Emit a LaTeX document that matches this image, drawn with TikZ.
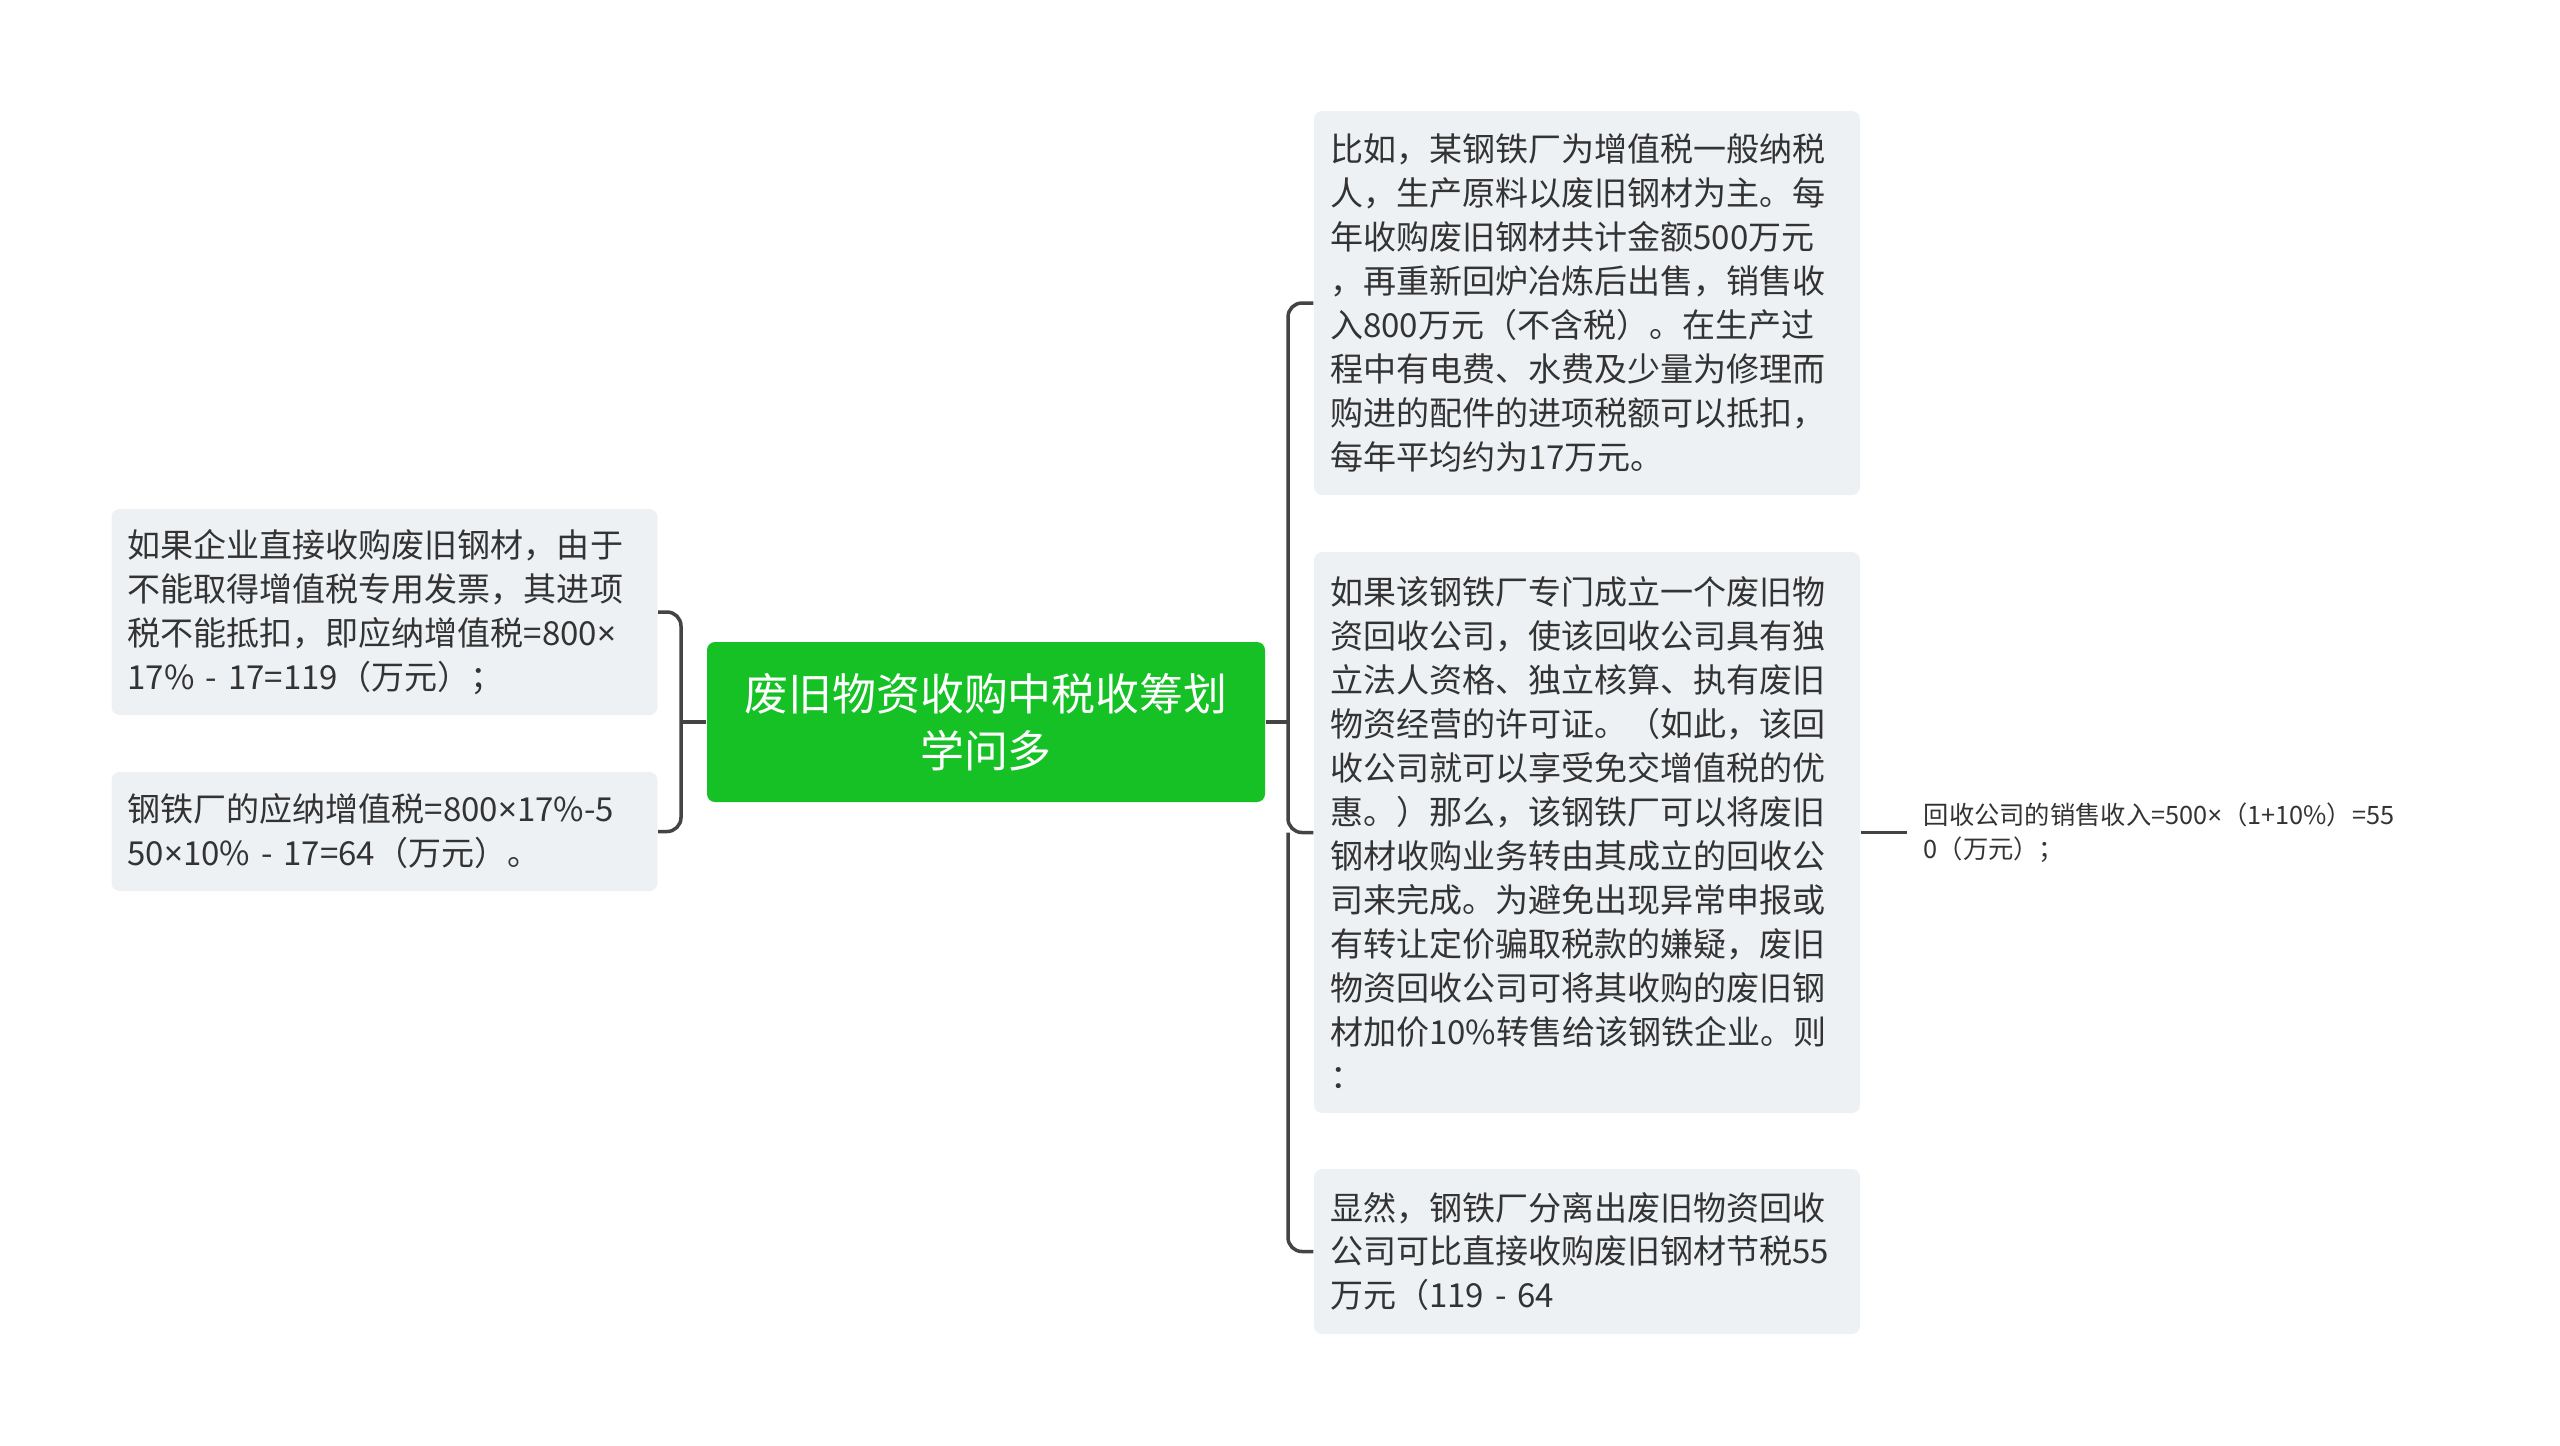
\documentclass[tikz,border=0pt]{standalone}
\usepackage{fontspec}
\setmainfont{Noto Sans CJK SC}
\newfontfamily\latino{Noto Sans}
\newcommand{\por}{{\latino ×}}
\definecolor{verde}{HTML}{16C125}
\definecolor{caja}{HTML}{EEF1F4}
\definecolor{linea}{HTML}{444444}
\definecolor{texto}{HTML}{333333}

\begin{document}
\begin{tikzpicture}
\tikzstyle{nodo texto}=[fill=caja,rounded corners=0.08cm,text width=5.14cm,inner xsep=0.16cm,align=left,text=texto,font=\fontsize{9.4pt}{12.5pt}\selectfont]
\tikzstyle{nodo central}=[fill=verde,rounded corners=0.08cm,minimum width=5.58cm,minimum height=1.6cm,align=center,text=white,font=\fontsize{12.5pt}{16.2pt}\selectfont]
\tikzstyle{conector}=[draw=linea,line width=1pt]

\useasboundingbox (0,0) rectangle (25.6,-14.45);

\node[nodo central] (tema) at (9.86,-7.22) {废旧物资收购中税收筹划\\学问多};

\node[nodo texto,minimum height=2.06cm] (directo) at (3.845,-6.12) {如果企业直接收购废旧钢材，由于\\不能取得增值税专用发票，其进项\\税不能抵扣，即应纳增值税=800\por\\17\% - 17=119（万元）；};
\node[nodo texto,minimum height=1.19cm] (acero) at (3.845,-8.315) {钢铁厂的应纳增值税=800\por17\%-5\\50\por10\% - 17=64（万元）。};

\node[nodo texto,minimum height=3.84cm] (ejemplo) at (15.87,-3.03) {比如，某钢铁厂为增值税一般纳税\\人，生产原料以废旧钢材为主。每\\年收购废旧钢材共计金额500万元\\，再重新回炉冶炼后出售，销售收\\入800万元（不含税）。在生产过\\程中有电费、水费及少量为修理而\\购进的配件的进项税额可以抵扣，\\每年平均约为17万元。};
\node[nodo texto,minimum height=5.61cm] (empresa) at (15.87,-8.325) {如果该钢铁厂专门成立一个废旧物\\资回收公司，使该回收公司具有独\\立法人资格、独立核算、执有废旧\\物资经营的许可证。（如此，该回\\收公司就可以享受免交增值税的优\\惠。）那么，该钢铁厂可以将废旧\\钢材收购业务转由其成立的回收公\\司来完成。为避免出现异常申报或\\有转让定价骗取税款的嫌疑，废旧\\物资回收公司可将其收购的废旧钢\\材加价10\%转售给该钢铁企业。则\\：};
\node[nodo texto,minimum height=1.65cm] (ahorro) at (15.87,-12.515) {显然，钢铁厂分离出废旧物资回收\\公司可比直接收购废旧钢材节税55\\万元（119 - 64};

\node[anchor=west,align=left,inner xsep=0.16cm,text=texto,font=\fontsize{7.2pt}{9.7pt}\selectfont] (ventas) at (19.07,-8.325) {回收公司的销售收入=500\por（1+10\%）=55\\0（万元）；};

\coordinate (bus izq) at (6.81,-7.22);
\coordinate (bus der) at (12.88,-7.22);

% izquierda
\draw[conector] (tema.west) -- (bus izq);
\draw[conector,rounded corners=0.14cm] (directo.east) -| (bus izq) |- (acero.east);

% derecha
\draw[conector] (tema.east) -- (bus der);
\draw[conector,rounded corners=0.14cm] (ejemplo.west) -| (bus der) |- (empresa.west);
\draw[conector,rounded corners=0.14cm] (bus der |- empresa.west) |- (ahorro.west);
\draw[conector] (empresa.east) -- (ventas.west);
\end{tikzpicture}
\end{document}
